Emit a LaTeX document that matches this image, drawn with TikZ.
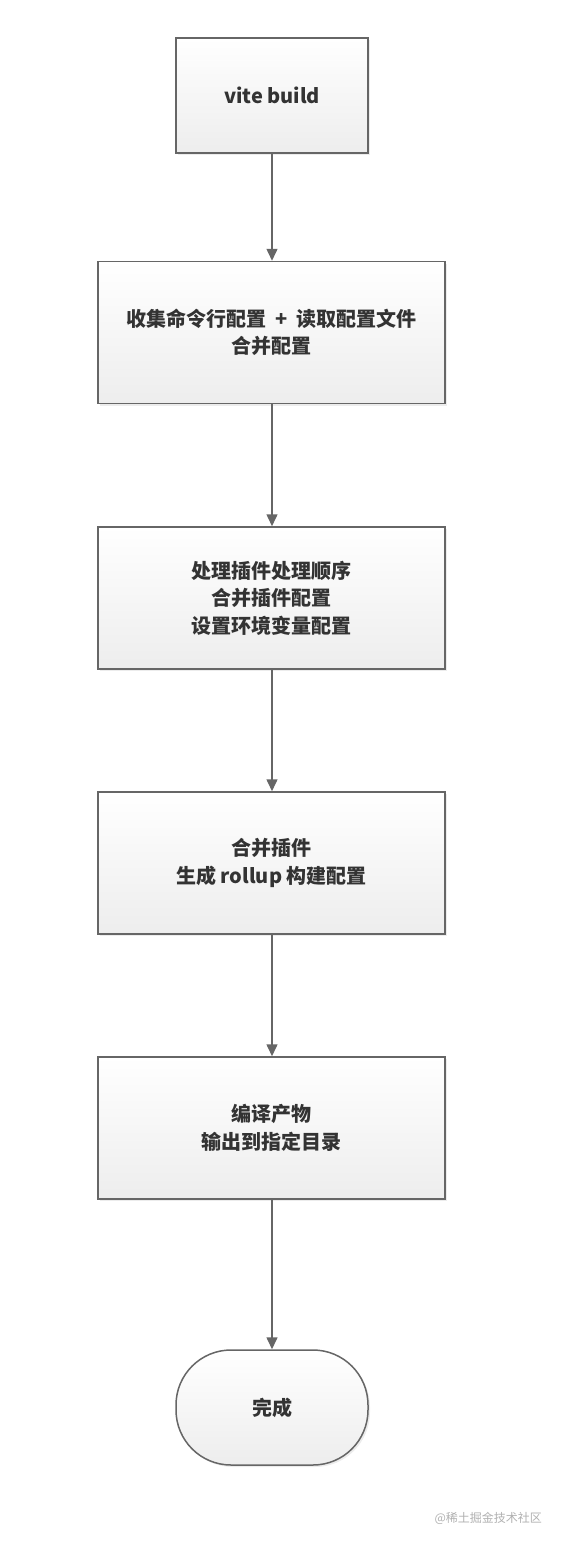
\documentclass[tikz,border=0pt]{standalone}
\usepackage{fontspec}
\setmainfont{Noto Sans CJK SC}
\usetikzlibrary{arrows.meta,shadows}
\definecolor{edgegray}{RGB}{102,102,102}
\definecolor{textgray}{RGB}{51,51,51}
\definecolor{markgray}{RGB}{176,176,176}
\tikzset{every picture/.style={line width=1.5pt}}
\tikzset{
  procbox/.style={draw=edgegray, top color=white, bottom color=black!7,
    drop shadow={shadow xshift=2pt, shadow yshift=-2pt, opacity=0.15},
    minimum width=347pt, minimum height=142pt, inner sep=0pt,
    align=center, text=textgray, font=\fontsize{20}{27.5}\selectfont\bfseries},
  flowarrow/.style={draw=edgegray, -{Triangle[length=12pt,width=11pt]}}
}

\begin{document}
\begin{tikzpicture}[x=1pt,y=1pt,yscale=-1,xscale=1]
\useasboundingbox (0,0) rectangle (564,1544);

% Steps
\node [procbox, minimum width=192pt, minimum height=115pt] (vitebuild) at (272,95.5) {vite build};
\node [procbox] (collect) at (271.5,332.5) {收集命令行配置\ \ +\ \ 读取配置文件\\合并配置};
\node [procbox] (plugins) at (271.5,598) {处理插件处理顺序\\合并插件配置\\设置环境变量配置};
\node [procbox] (rollup) at (271.5,863) {合并插件\\生成 rollup 构建配置};
\node [procbox] (output) at (271.5,1128) {编译产物\\输出到指定目录};
\node [procbox, minimum width=192pt, minimum height=115pt, rounded corners=55pt] (done) at (272,1407.5) {完成};

% Connectors
\draw [flowarrow] (vitebuild) -- (vitebuild |- collect.north);
\draw [flowarrow] (collect.south -| vitebuild) -- (vitebuild |- plugins.north);
\draw [flowarrow] (plugins.south -| vitebuild) -- (vitebuild |- rollup.north);
\draw [flowarrow] (rollup.south -| vitebuild) -- (vitebuild |- output.north);
\draw [flowarrow] (output.south -| vitebuild) -- (done);

% Watermark
\node [text=markgray, font=\fontsize{12}{14}\selectfont, anchor=east] (mark) at (546,1518) {@稀土掘金技术社区};

\end{tikzpicture}
\end{document}
